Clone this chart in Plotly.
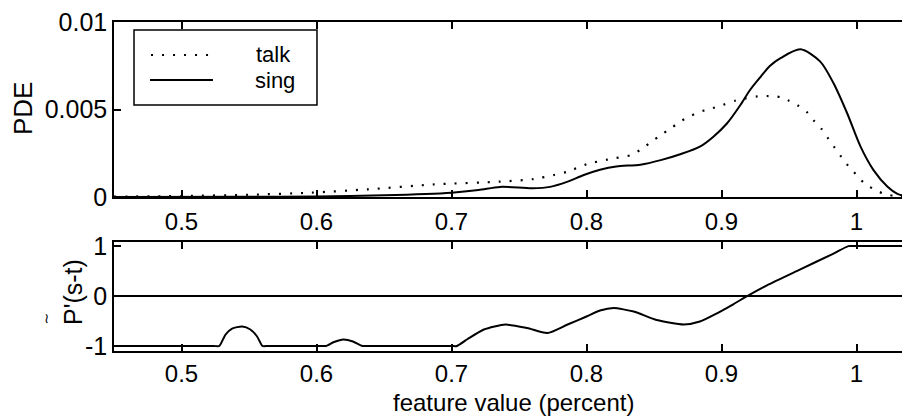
import plotly.graph_objects as go

# ---- data -------------------------------------------------------------
x_ticks = [0.5, 0.6, 0.7, 0.8, 0.9, 1.0]
x_tick_labels = ["0.5", "0.6", "0.7", "0.8", "0.9", "1"]

talk_x = [0.45, 0.50, 0.55, 0.596, 0.638, 0.687, 0.736, 0.761, 0.776, 0.786,
          0.800, 0.816, 0.833, 0.840, 0.847, 0.855, 0.862, 0.870, 0.877, 0.884,
          0.893, 0.901, 0.910, 0.918, 0.927, 0.935, 0.944, 0.949, 0.956, 0.963,
          0.968, 0.974, 0.979, 0.984, 0.989, 0.994, 1.000, 1.006, 1.013, 1.020,
          1.030, 1.040]
talk_pde = [0.00002, 0.00006, 0.00013, 0.00025, 0.00044, 0.00072, 0.00088, 0.00103,
            0.00126, 0.00145, 0.00187, 0.00215, 0.0024, 0.0027, 0.0031, 0.00354,
            0.0039, 0.00434, 0.00463, 0.00487, 0.00507, 0.00526, 0.0055, 0.00564,
            0.00575, 0.00577, 0.0057, 0.00554, 0.00526, 0.00487, 0.0044, 0.0039,
            0.00335, 0.0028, 0.00227, 0.00177, 0.00126, 0.00078, 0.00044, 0.0002,
            0.00003, 0.0]

sing_x = [0.45, 0.55, 0.60, 0.65, 0.70, 0.72, 0.736, 0.76, 0.773, 0.786, 0.798,
          0.810, 0.822, 0.840, 0.855, 0.870, 0.884, 0.894, 0.904, 0.914,
          0.921, 0.929, 0.936, 0.944, 0.9585, 0.973, 0.983, 0.993, 1.003, 1.0126,
          1.023, 1.030, 1.036, 1.042]
sing_pde = [0.0, 0.00001, 0.00003, 0.0001, 0.00025, 0.0004, 0.00058, 0.0005,
            0.00058, 0.00088, 0.00126, 0.00156, 0.00175, 0.00185, 0.00211,
            0.00246, 0.00288, 0.00345, 0.0042, 0.00526, 0.0061, 0.00687, 0.0075,
            0.00795, 0.00844, 0.00775, 0.0065, 0.0048, 0.00288, 0.00154, 0.00059,
            0.0002, 0.00005, 0.0]

diff_x = [0.45, 0.524, 0.528, 0.5326, 0.5375, 0.545, 0.551, 0.556, 0.560, 0.564,
          0.603, 0.607, 0.613, 0.620, 0.627, 0.634, 0.638,
          0.700, 0.704, 0.712, 0.724, 0.740, 0.756, 0.771, 0.786, 0.800, 0.810,
          0.820, 0.835, 0.852, 0.872, 0.884, 0.897, 0.909, 0.919, 0.934, 0.958,
          0.983, 0.994, 0.998, 1.05]
diff_val = [-1, -1, -1, -0.77, -0.65, -0.61, -0.67, -0.81, -1, -1,
            -1, -1, -0.92, -0.87, -0.91, -1, -1,
            -1, -1, -0.86, -0.67, -0.57, -0.64, -0.74, -0.57, -0.41, -0.29,
            -0.24, -0.31, -0.48, -0.57, -0.51, -0.34, -0.16, 0.0, 0.22, 0.53,
            0.85, 1.0, 1.0, 1.0]

FONT = "Liberation Sans, Arial, Helvetica, sans-serif"
BLACK = "black"

fig = go.Figure()

fig.add_trace(go.Scatter(x=talk_x, y=talk_pde, mode="lines", name="talk",
                         line=dict(color=BLACK, width=2.2, dash="2px,9px", shape="spline",
                                   smoothing=0.8),
                         xaxis="x", yaxis="y", showlegend=False))
fig.add_trace(go.Scatter(x=sing_x, y=sing_pde, mode="lines", name="sing",
                         line=dict(color=BLACK, width=2, shape="spline", smoothing=0.8),
                         xaxis="x", yaxis="y", showlegend=False))
fig.add_trace(go.Scatter(x=diff_x, y=diff_val, mode="lines", name="P'(s-t)",
                         line=dict(color=BLACK, width=2, shape="spline", smoothing=0.6),
                         xaxis="x2", yaxis="y2", showlegend=False))

x_range = [0.45, 1.0337]
axis_common = dict(showline=True, linecolor=BLACK, linewidth=1.5, ticks="inside",
                   ticklen=7, tickwidth=1.5, tickcolor=BLACK, showgrid=False)
x_font = dict(family=FONT, size=24, color=BLACK)
y_font = dict(family=FONT, size=25, color=BLACK)

fig.update_layout(
    width=902, height=419,
    margin=dict(l=114, r=0, t=22, b=68),
    paper_bgcolor="white", plot_bgcolor="white",
    xaxis=dict(domain=[0, 1], anchor="y", range=x_range, tickvals=x_ticks,
               ticktext=x_tick_labels, mirror="allticks", zeroline=False,
               ticklabelstandoff=2, tickfont=x_font, **axis_common),
    yaxis=dict(domain=[0.468, 1], anchor="x", range=[0, 0.01],
               tickvals=[0, 0.005, 0.01], ticktext=["0", "0.005", "0.01"],
               zeroline=False, tickfont=y_font, **axis_common),
    xaxis2=dict(domain=[0, 1], anchor="y2", range=x_range, tickvals=x_ticks,
                ticktext=x_tick_labels, mirror="allticks", zeroline=False,
                ticklabelstandoff=0, tickfont=x_font, **axis_common),
    yaxis2=dict(domain=[0, 0.331], anchor="x2", range=[-1.1, 1.08],
                tickvals=[-1, 0, 1], ticktext=["-1", "0", "1"],
                zeroline=True, zerolinecolor=BLACK, zerolinewidth=1.5,
                tickfont=y_font, **axis_common),
)

# legend box drawn in paper coordinates
fig.add_shape(type="rect", xref="paper", yref="paper", x0=0.0254, x1=0.2576,
              y0=0.7477, y1=0.9757, line=dict(color=BLACK, width=1.5),
              fillcolor="white", layer="above")
fig.add_shape(type="line", xref="paper", yref="paper", x0=0.0470, x1=0.1230,
              y0=0.8997, y1=0.8997, line=dict(color=BLACK, width=2.2, dash="2px,9px"))
fig.add_shape(type="line", xref="paper", yref="paper", x0=0.0457, x1=0.1256,
              y0=0.8237, y1=0.8237, line=dict(color=BLACK, width=2))

legend_font = dict(family=FONT, size=22, color=BLACK)
fig.add_annotation(text="talk", xref="paper", yref="paper", x=0.1789,
                   y=(351 - 54.5) / 329, xanchor="left", yanchor="middle",
                   showarrow=False, font=legend_font, borderpad=0)
fig.add_annotation(text="sing", xref="paper", yref="paper", x=0.1777,
                   y=(351 - 80.5) / 329, xanchor="left", yanchor="middle",
                   showarrow=False, font=legend_font, borderpad=0)

# axis labels
fig.add_annotation(text="feature value (percent)", xref="paper", yref="paper",
                   x=(513.5 - 114) / 788, y=(351 - 403) / 329, xanchor="center",
                   yanchor="middle", showarrow=False, font=x_font, borderpad=0)
fig.add_annotation(text="PDE", xref="paper", yref="paper", x=(23 - 114) / 788,
                   y=(351 - 109) / 329, textangle=-90, xanchor="center",
                   yanchor="middle", showarrow=False,
                   font=dict(family=FONT, size=26, color=BLACK))
fig.add_annotation(text="P'(s-t)", xref="paper", yref="paper", x=(73 - 114) / 788,
                   y=(351 - 292) / 329, textangle=-90, xanchor="center",
                   yanchor="middle", showarrow=False,
                   font=dict(family=FONT, size=25, color=BLACK))
fig.add_annotation(text="≀", xref="paper", yref="paper", x=(46 - 114) / 788,
                   y=(351 - 318) / 329, xanchor="center",
                   yanchor="middle", showarrow=False,
                   font=dict(family="DejaVu Sans", size=14, color=BLACK))

fig.write_html("out.html")
